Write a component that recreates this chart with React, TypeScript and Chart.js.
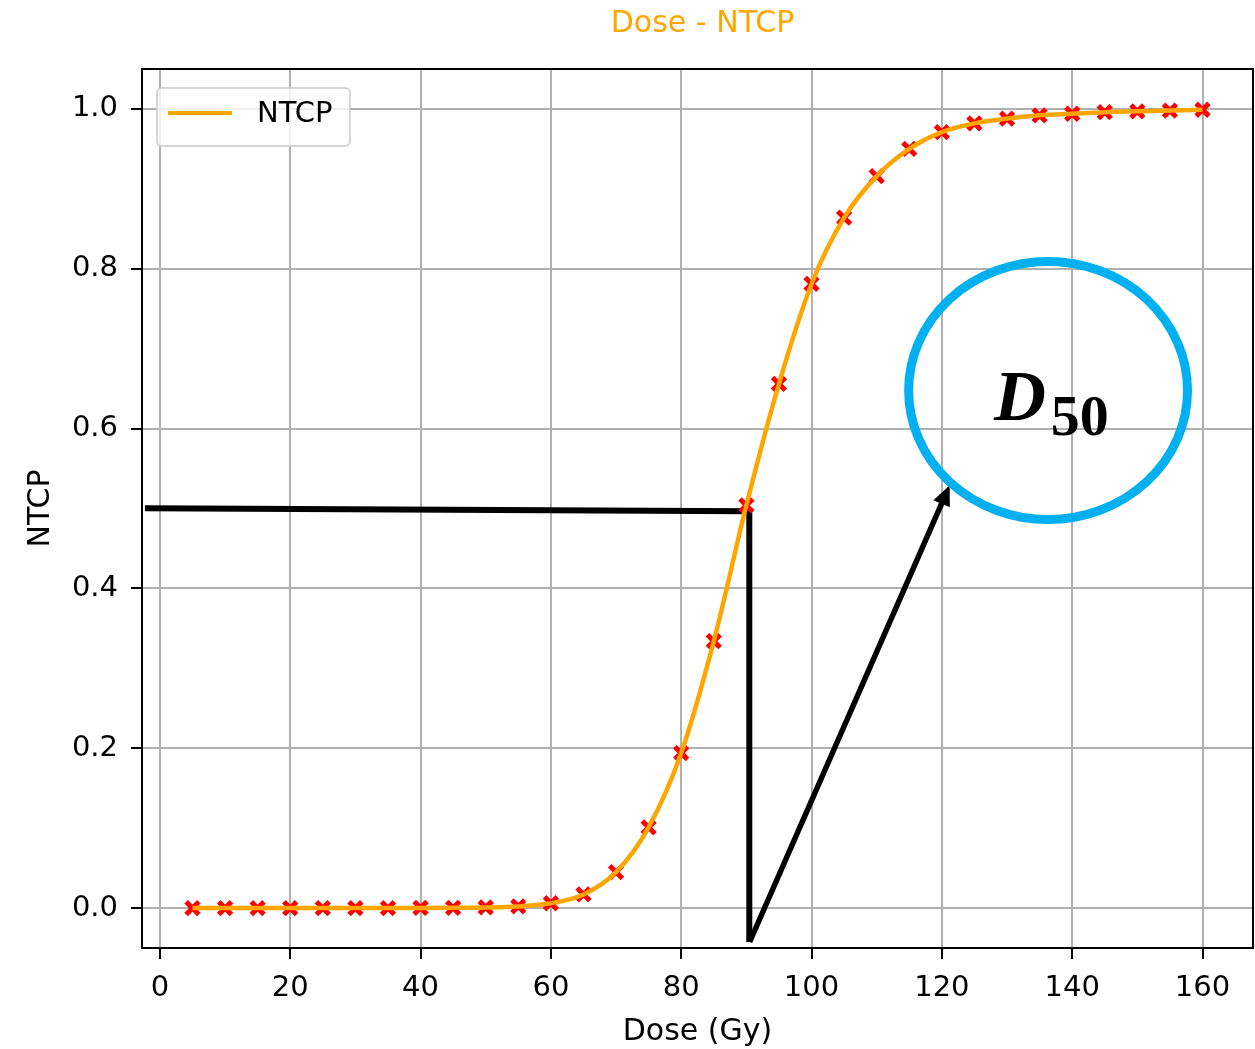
import React, { useEffect, useRef } from "react";
import { Chart, registerables } from "chart.js";

Chart.register(...registerables);

// ---------------- data ----------------
const DOSES = [5, 10, 15, 20, 25, 30, 35, 40, 45, 50, 55, 60, 65, 70, 75, 80, 85, 90, 95, 100, 105, 110, 115, 120, 125, 130, 135, 140, 145, 150, 155, 160];
const NTCP_VALUES = [0, 0, 0, 0, 0, 0, 0, 0.0001, 0.0003, 0.0007, 0.002, 0.006, 0.017, 0.045, 0.101, 0.194, 0.334, 0.504, 0.656, 0.781, 0.864, 0.916, 0.95, 0.971, 0.982, 0.988, 0.992, 0.994, 0.996, 0.997, 0.998, 0.999];
const X_TICKS = [0, 20, 40, 60, 80, 100, 120, 140, 160];
const Y_TICKS = [0, 0.2, 0.4, 0.6, 0.8, 1.0];
const X_RANGE = [-2.75, 167.75];
const Y_RANGE = [-0.05, 1.05];

const TITLE = "Dose - NTCP";
const X_LABEL = "Dose (Gy)";
const Y_LABEL = "NTCP";
const SERIES_LABEL = "NTCP";

// annotation (hand-drawn overlay), in data units
const GUIDE_PATH = [
  [-2.3, 0.5004],
  [90.45, 0.4966],
  [90.45, -0.0425],
];
const ARROW_FROM = [90.5, -0.0425];
const ARROW_TO = [121.2, 0.529];
const CALLOUT_CENTER = [136.3, 0.6477];
const CALLOUT_RADII = [21.4, 0.1615];
const CALLOUT_MAIN = "D";
const CALLOUT_SUB = "50";
const CALLOUT_MAIN_AT = [128.0, 0.611];
const CALLOUT_SUB_AT = [136.7, 0.5918];

const FONT = "'DejaVu Sans', sans-serif";
const ORANGE = "#FFA500";

const overlayPlugin = {
  id: "overlay",
  beforeDatasetsDraw(chart: any) {
    const { ctx, scales } = chart;
    const xs = scales.x;
    const ys = scales.y;
    const px = (v: number) => xs.getPixelForValue(v);
    const py = (v: number) => ys.getPixelForValue(v);
    ctx.save();
    // guide lines
    ctx.strokeStyle = "#000";
    ctx.lineWidth = 6;
    ctx.lineJoin = "miter";
    ctx.beginPath();
    GUIDE_PATH.forEach((p, i) => {
      if (i === 0) ctx.moveTo(px(p[0]), py(p[1]));
      else ctx.lineTo(px(p[0]), py(p[1]));
    });
    ctx.stroke();
    // arrow
    const x0 = px(ARROW_FROM[0]), y0 = py(ARROW_FROM[1]);
    const x1 = px(ARROW_TO[0]), y1 = py(ARROW_TO[1]);
    const ang = Math.atan2(y1 - y0, x1 - x0);
    const head = 22;
    const hx = x1 - Math.cos(ang) * head * 0.8;
    const hy = y1 - Math.sin(ang) * head * 0.8;
    ctx.lineWidth = 5.5;
    ctx.lineCap = "butt";
    ctx.beginPath();
    ctx.moveTo(x0, y0);
    ctx.lineTo(hx, hy);
    ctx.stroke();
    ctx.fillStyle = "#000";
    ctx.beginPath();
    ctx.moveTo(x1, y1);
    ctx.lineTo(x1 - Math.cos(ang - 0.42) * head, y1 - Math.sin(ang - 0.42) * head);
    ctx.lineTo(x1 - Math.cos(ang + 0.42) * head, y1 - Math.sin(ang + 0.42) * head);
    ctx.closePath();
    ctx.fill();
    // callout ellipse
    const cx = px(CALLOUT_CENTER[0]);
    const cy = py(CALLOUT_CENTER[1]);
    const rx = Math.abs(px(CALLOUT_CENTER[0] + CALLOUT_RADII[0]) - cx);
    const ry = Math.abs(py(CALLOUT_CENTER[1] + CALLOUT_RADII[1]) - cy);
    ctx.strokeStyle = "#00B0F0";
    ctx.lineWidth = 9;
    ctx.beginPath();
    ctx.ellipse(cx, cy, rx, ry, 0, 0, Math.PI * 2);
    ctx.stroke();
    // callout text
    ctx.fillStyle = "#000";
    ctx.textBaseline = "alphabetic";
    ctx.textAlign = "left";
    ctx.font = "italic bold 72px 'Liberation Serif', serif";
    ctx.fillText(CALLOUT_MAIN, px(CALLOUT_MAIN_AT[0]), py(CALLOUT_MAIN_AT[1]));
    ctx.font = "bold 58px 'Liberation Serif', serif";
    ctx.fillText(CALLOUT_SUB, px(CALLOUT_SUB_AT[0]), py(CALLOUT_SUB_AT[1]));
    ctx.restore();
  },
  afterDraw(chart: any) {
    const { ctx, chartArea } = chart;
    const { left, right, top, bottom } = chartArea;
    ctx.save();
    // frame
    ctx.strokeStyle = "#000";
    ctx.lineWidth = 2;
    ctx.strokeRect(left, top, right - left, bottom - top);
    // title
    ctx.fillStyle = ORANGE;
    ctx.font = `30px ${FONT}`;
    ctx.textAlign = "center";
    ctx.textBaseline = "middle";
    ctx.fillText(TITLE, (left + right) / 2 + 5, 24);
    // legend
    const bx = left + 15, by = top + 19, bw = 193, bh = 58, r = 5;
    ctx.fillStyle = "rgba(255,255,255,0.8)";
    ctx.strokeStyle = "rgba(204,204,204,0.8)";
    ctx.lineWidth = 2;
    ctx.beginPath();
    ctx.moveTo(bx + r, by);
    ctx.lineTo(bx + bw - r, by);
    ctx.arcTo(bx + bw, by, bx + bw, by + r, r);
    ctx.lineTo(bx + bw, by + bh - r);
    ctx.arcTo(bx + bw, by + bh, bx + bw - r, by + bh, r);
    ctx.lineTo(bx + r, by + bh);
    ctx.arcTo(bx, by + bh, bx, by + bh - r, r);
    ctx.lineTo(bx, by + r);
    ctx.arcTo(bx, by, bx + r, by, r);
    ctx.closePath();
    ctx.fill();
    ctx.stroke();
    ctx.strokeStyle = ORANGE;
    ctx.lineWidth = 4;
    ctx.beginPath();
    ctx.moveTo(bx + 11, by + 25);
    ctx.lineTo(bx + 75, by + 25);
    ctx.stroke();
    ctx.fillStyle = "#000";
    ctx.font = `29px ${FONT}`;
    ctx.textAlign = "left";
    ctx.textBaseline = "middle";
    ctx.fillText(SERIES_LABEL, bx + 100, by + 26);
    ctx.restore();
  },
};

export default function App() {
  const ref = useRef<HTMLCanvasElement | null>(null);
  useEffect(() => {
    document.body.style.margin = "0";
    const canvas = ref.current!;
    const chart = new Chart(canvas, {
      type: "line",
      data: {
        datasets: [
          {
            label: SERIES_LABEL,
            data: DOSES.map((d, i) => ({ x: d, y: NTCP_VALUES[i] })),
            borderColor: ORANGE,
            backgroundColor: ORANGE,
            borderWidth: 4.5,
            pointRadius: 0,
            cubicInterpolationMode: "monotone",
            order: 0,
          },
          {
            label: "markers",
            data: DOSES.map((d, i) => ({ x: d, y: NTCP_VALUES[i] })),
            showLine: false,
            pointStyle: "crossRot",
            pointRadius: 9,
            pointBorderWidth: 5,
            pointBorderColor: "#FF0000",
            pointBackgroundColor: "#FF0000",
            order: 1,
          },
        ],
      },
      options: {
        responsive: false,
        animation: false,
        layout: { autoPadding: false, padding: { left: 0, top: 69, right: 2, bottom: 0 } },
        plugins: {
          legend: { display: false },
          title: { display: false },
          tooltip: { enabled: false },
        },
        scales: {
          x: {
            type: "linear",
            min: X_RANGE[0],
            max: X_RANGE[1],
            afterFit: (s: any) => {
              s.height = 101;
              s.paddingLeft = 0;
              s.paddingRight = 0;
            },
            afterBuildTicks: (s: any) => {
              s.ticks = X_TICKS.map((v) => ({ value: v }));
            },
            ticks: {
              color: "#000",
              font: { family: FONT, size: 29 },
              padding: 12,
              maxRotation: 0,
              callback: (v: any) => String(v),
            },
            grid: {
              color: "#b0b0b0",
              lineWidth: 2,
              drawTicks: true,
              tickLength: 11,
              tickColor: "#000",
              tickWidth: 2,
            },
            border: { display: false },
            title: {
              display: true,
              text: X_LABEL,
              color: "#000",
              font: { family: FONT, size: 30 },
              padding: { top: 0, bottom: -1 },
            },
          },
          y: {
            type: "linear",
            min: Y_RANGE[0],
            max: Y_RANGE[1],
            afterFit: (s: any) => {
              s.width = 142;
              s.paddingTop = 0;
              s.paddingBottom = 0;
            },
            afterBuildTicks: (s: any) => {
              s.ticks = Y_TICKS.map((v) => ({ value: v }));
            },
            ticks: {
              color: "#000",
              font: { family: FONT, size: 29 },
              padding: 13,
              callback: (v: any) => Number(v).toFixed(1),
            },
            grid: {
              color: "#b0b0b0",
              lineWidth: 2,
              drawTicks: true,
              tickLength: 11,
              tickColor: "#000",
              tickWidth: 2,
            },
            border: { display: false },
            title: {
              display: true,
              text: Y_LABEL,
              color: "#000",
              font: { family: FONT, size: 30 },
              padding: { top: 23, bottom: 0 },
            },
          },
        },
      },
      plugins: [overlayPlugin],
    } as any);
    return () => chart.destroy();
  }, []);
  return (
    <div style={{ width: 1255, height: 1049 }}>
      <canvas ref={ref} width={1255} height={1049} style={{ display: "block" }} />
    </div>
  );
}
